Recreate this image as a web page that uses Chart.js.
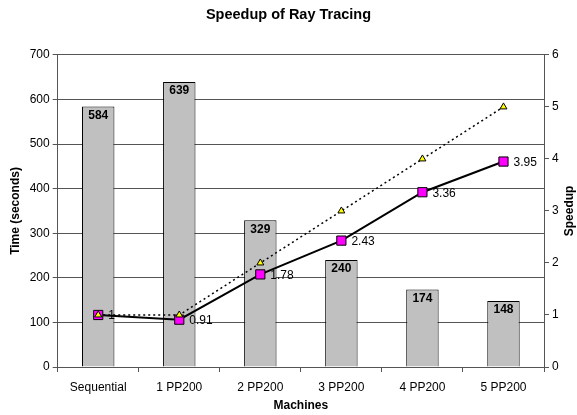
<!DOCTYPE html>
<html>
<head>
<meta charset="utf-8">
<script src="https://cdn.jsdelivr.net/npm/chart.js@4/dist/chart.umd.min.js"></script>
<style>
  html, body { margin: 0; padding: 0; background: #fff; }
  #wrap { width: 577px; height: 415px; }
</style>
</head>
<body>
<div id="wrap"><canvas id="speedupChart" width="577" height="415"></canvas></div>
<script>
// chart data
var machines = ['Sequential', '1 PP200', '2 PP200', '3 PP200', '4 PP200', '5 PP200'];
var timeSeconds = [584, 639, 329, 240, 174, 148];
var speedup = [1, 0.91, 1.78, 2.43, 3.36, 3.95];
var idealSpeedup = [1, 1, 2, 3, 4, 5];

var gridColor = '#555555';
var fontFamily = '"Liberation Sans", Arial, sans-serif';

// value labels on bars and on the speedup points
var valueLabels = {
    id: 'valueLabels',
    afterDatasetsDraw: function(chart) {
        var ctx = chart.ctx;
        ctx.save();
        ctx.fillStyle = '#000';
        var barMeta = chart.getDatasetMeta(0);
        ctx.font = 'bold 12px ' + fontFamily;
        ctx.textAlign = 'center';
        ctx.textBaseline = 'middle';
        barMeta.data.forEach(function(bar, i) {
            ctx.fillText(String(timeSeconds[i]), bar.x, bar.y + 9);
        });
        var lineMeta = chart.getDatasetMeta(1);
        ctx.font = '12px ' + fontFamily;
        ctx.textAlign = 'left';
        lineMeta.data.forEach(function(pt, i) {
            ctx.fillText(String(speedup[i]), pt.x + 10, pt.y + 1);
        });
        ctx.restore();
    }
};

// right axis title reads bottom-to-top like the left one
var rightTitle = {
    id: 'rightTitle',
    afterDraw: function(chart) {
        var ctx = chart.ctx;
        var area = chart.chartArea;
        ctx.save();
        ctx.translate(570, (area.top + area.bottom) / 2);
        ctx.rotate(-Math.PI / 2);
        ctx.font = 'bold 12px ' + fontFamily;
        ctx.fillStyle = '#000';
        ctx.textAlign = 'center';
        ctx.textBaseline = 'middle';
        ctx.fillText('Speedup', 0, 0);
        ctx.restore();
    }
};

var ctx = document.getElementById('speedupChart').getContext('2d');
var chart = new Chart(ctx, {
    data: {
        labels: machines,
        datasets: [
            {
                type: 'bar',
                label: 'Time (seconds)',
                data: timeSeconds,
                yAxisID: 'y',
                backgroundColor: '#C0C0C0',
                borderColor: '#000',
                borderWidth: 1,
                barPercentage: 0.4,
                categoryPercentage: 1,
                order: 3
            },
            {
                type: 'line',
                label: 'Speedup',
                data: speedup,
                yAxisID: 'y1',
                borderColor: '#000',
                borderWidth: 2,
                pointStyle: 'rect',
                pointRadius: 6.5,
                pointBackgroundColor: '#FF00FF',
                pointBorderColor: '#000',
                pointBorderWidth: 1,
                tension: 0,
                order: 2
            },
            {
                type: 'line',
                label: 'Ideal',
                data: idealSpeedup,
                yAxisID: 'y1',
                borderColor: '#000',
                borderWidth: 1.5,
                borderDash: [2, 3],
                pointStyle: 'triangle',
                pointRadius: 4,
                pointBackgroundColor: '#FFFF00',
                pointBorderColor: '#000',
                pointBorderWidth: 1,
                tension: 0,
                order: 1
            }
        ]
    },
    options: {
        responsive: false,
        animation: false,
        devicePixelRatio: 1,
        layout: { padding: 0 },
        plugins: {
            legend: { display: false },
            tooltip: { enabled: false },
            title: {
                display: true,
                text: 'Speedup of Ray Tracing',
                color: '#000',
                font: { family: fontFamily, size: 14.5, weight: 'bold' },
                padding: { top: 6, bottom: 31.5 }
            }
        },
        scales: {
            x: {
                offset: true,
                grid: { drawOnChartArea: false, tickLength: 5, color: gridColor },
                border: { color: gridColor },
                ticks: { color: '#000', font: { family: fontFamily, size: 12 }, padding: 8, maxRotation: 0 },
                title: {
                    display: true,
                    text: 'Machines',
                    color: '#000',
                    font: { family: fontFamily, size: 12, weight: 'bold' },
                    padding: { top: 0, bottom: 2 }
                },
                afterFit: function(scale) { scale.height = 48; }
            },
            y: {
                position: 'left',
                min: 0,
                max: 700,
                grid: { color: gridColor, tickLength: 5 },
                border: { color: gridColor },
                ticks: { stepSize: 100, color: '#000', font: { family: fontFamily, size: 12 }, padding: 3 },
                title: {
                    display: true,
                    text: 'Time (seconds)',
                    color: '#000',
                    font: { family: fontFamily, size: 12, weight: 'bold' },
                    padding: { top: 8, bottom: 0 }
                },
                afterFit: function(scale) { scale.width = 57.7; }
            },
            y1: {
                position: 'right',
                min: 0,
                max: 6,
                grid: { drawOnChartArea: false, color: gridColor, tickLength: 5 },
                border: { color: gridColor },
                ticks: { stepSize: 1, color: '#000', font: { family: fontFamily, size: 12 }, padding: 3 },
                afterFit: function(scale) { scale.width = 33; }
            }
        }
    },
    plugins: [valueLabels, rightTitle]
});
</script>
</body>
</html>
